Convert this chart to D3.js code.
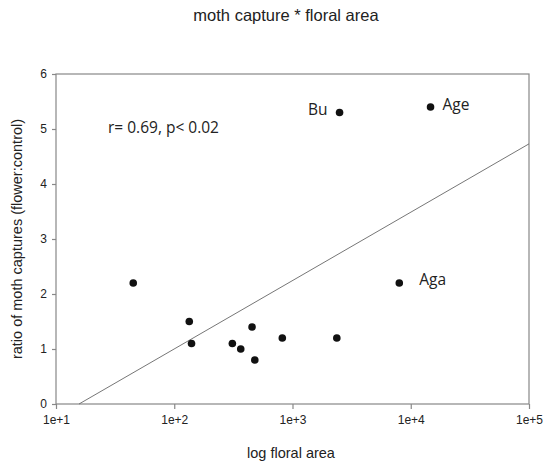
<!DOCTYPE html>
<html>
<head>
<meta charset="utf-8">
<script src="https://cdn.jsdelivr.net/npm/d3@7"></script>
<style>
  body { margin: 0; background: #fff; }
  svg { display: block; }
</style>
</head>
<body>
<svg></svg>
<script>
const width = 553
const height = 463
const margin = { top: 74, right: 24, bottom: 59, left: 56 }

// floral area (log axis) vs ratio of moth captures
const floralArea = [45, 134, 140, 310, 365, 455, 480, 820, 2370, 8000, 2500, 14700]
const captureRatio = [2.2, 1.5, 1.1, 1.1, 1.0, 1.4, 0.8, 1.2, 1.2, 2.2, 5.3, 5.4]
const pointLabels = ['', '', '', '', '', '', '', '', '', 'Aga', 'Bu', 'Age']

const xTicks = [1e1, 1e2, 1e3, 1e4, 1e5]
const xTickLabels = ['1e+1', '1e+2', '1e+3', '1e+4', '1e+5']
const yTicks = [0, 1, 2, 3, 4, 5, 6]

// regression fit: ratio = slope * log10(area) + intercept
const fitSlope = 1.243
const fitIntercept = -1.485

const xScale = d3.scaleLog()
  .domain([1e1, 1e5])
  .range([margin.left, width - margin.right])

const yScale = d3.scaleLinear()
  .domain([0, 6])
  .range([height - margin.bottom, margin.top])

const svg = d3.select('svg')
  .attr('width', width)
  .attr('height', height)

const axisColor = '#888'
const sans = 'Liberation Sans, Arial, sans-serif'

// frame
svg.append('rect')
  .attr('x', xScale(1e1))
  .attr('y', yScale(6))
  .attr('width', xScale(1e5) - xScale(1e1))
  .attr('height', yScale(0) - yScale(6))
  .attr('fill', 'none')
  .attr('stroke', axisColor)
  .attr('stroke-width', 1.2)

const xAxis = svg.append('g')
  .attr('transform', `translate(0,${yScale(0)})`)
  .call(d3.axisBottom(xScale)
    .tickValues(xTicks)
    .tickFormat((d, i) => xTickLabels[i])
    .tickSize(5)
    .tickPadding(6))
xAxis.select('.domain').remove()
xAxis.selectAll('line').attr('stroke', axisColor).attr('stroke-width', 1.2)
xAxis.selectAll('text')
  .attr('font-family', sans)
  .attr('font-size', 12)
  .attr('fill', '#222')

const yAxis = svg.append('g')
  .attr('transform', `translate(${xScale(1e1)},0)`)
  .call(d3.axisLeft(yScale)
    .tickValues(yTicks)
    .tickFormat(d3.format('d'))
    .tickSize(4)
    .tickPadding(5))
yAxis.select('.domain').remove()
yAxis.selectAll('line').attr('stroke', axisColor).attr('stroke-width', 1.2)
yAxis.selectAll('text')
  .attr('font-family', sans)
  .attr('font-size', 12)
  .attr('fill', '#222')

// regression line, from where it crosses 0 to right edge
const xStart = Math.pow(10, -fitIntercept / fitSlope)
const fitLine = d3.line()
  .x(d => xScale(d))
  .y(d => yScale(fitSlope * Math.log10(d) + fitIntercept))
svg.append('path')
  .datum([xStart, 1e5])
  .attr('d', fitLine)
  .attr('fill', 'none')
  .attr('stroke', '#666')
  .attr('stroke-width', 0.9)

// points
svg.selectAll('circle.pt')
  .data(floralArea)
  .enter()
  .append('circle')
    .attr('class', 'pt')
    .attr('cx', d => xScale(d))
    .attr('cy', (d, i) => yScale(captureRatio[i]))
    .attr('r', 3.8)
    .attr('fill', '#111')

// point labels
const labelFont = 'Open Sans, Carlito, Calibri, sans-serif'
const labelOffsets = { Aga: [20, -3, 'start'], Bu: [-12, -3, 'end'], Age: [12, -2, 'start'] }
svg.selectAll('text.ptlabel')
  .data(floralArea.map((d, i) => ({ x: d, y: captureRatio[i], name: pointLabels[i] })).filter(d => d.name))
  .enter()
  .append('text')
    .attr('class', 'ptlabel')
    .attr('x', d => xScale(d.x) + labelOffsets[d.name][0])
    .attr('y', d => yScale(d.y) + labelOffsets[d.name][1])
    .attr('dy', '0.35em')
    .attr('text-anchor', d => labelOffsets[d.name][2])
    .attr('font-family', labelFont)
    .attr('font-size', 15.5)
    .attr('fill', '#222')
    .text(d => d.name)

svg.append('text')
  .attr('x', 108)
  .attr('y', 133)
  .attr('font-family', labelFont)
  .attr('font-size', 15.5)
  .attr('fill', '#222')
  .text('r= 0.69, p< 0.02')

// titles
svg.append('text')
  .attr('x', 286)
  .attr('y', 21)
  .attr('text-anchor', 'middle')
  .attr('font-family', sans)
  .attr('font-size', 16.5)
  .attr('fill', '#222')
  .text('moth capture * floral area')

svg.append('text')
  .attr('x', 291)
  .attr('y', 458)
  .attr('text-anchor', 'middle')
  .attr('font-family', sans)
  .attr('font-size', 14.5)
  .attr('fill', '#222')
  .text('log floral area')

svg.append('text')
  .attr('transform', `translate(22,${(yScale(0) + yScale(6)) / 2}) rotate(-90)`)
  .attr('text-anchor', 'middle')
  .attr('font-family', sans)
  .attr('font-size', 14.5)
  .attr('fill', '#222')
  .text('ratio of moth captures (flower:control)')
</script>
</body>
</html>
